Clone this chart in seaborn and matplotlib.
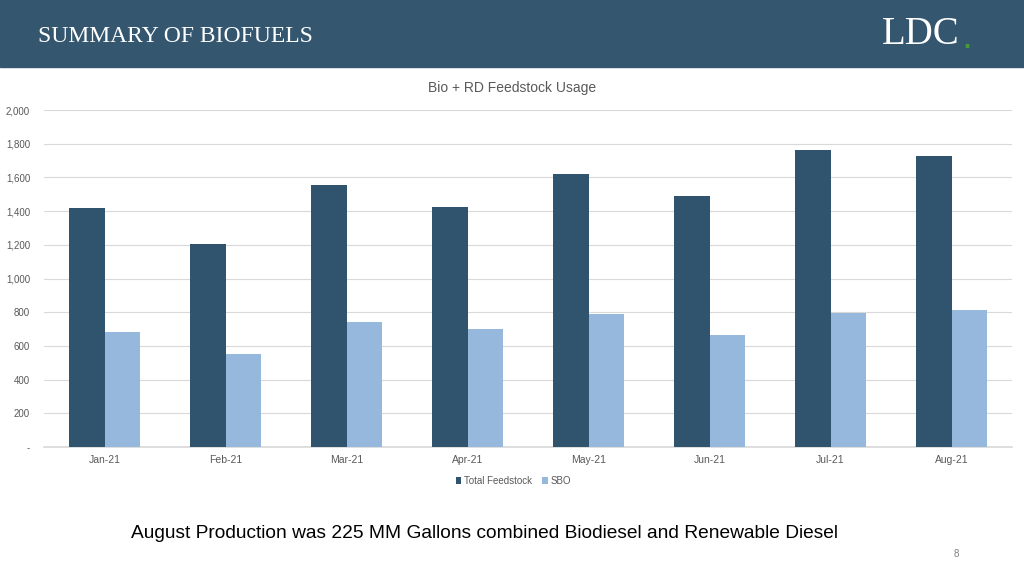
import pandas as pd
import matplotlib.pyplot as plt
import matplotlib.ticker as mticker
import seaborn as sns

# Données
months = ['Jan-21', 'Feb-21', 'Mar-21', 'Apr-21', 'May-21', 'Jun-21', 'Jul-21', 'Aug-21']
total_feedstock = [1418, 1205, 1555, 1424, 1620, 1490, 1763, 1727]
sbo = [682, 552, 742, 700, 789, 665, 795, 813]

df = pd.DataFrame({
    'Month': months * 2,
    'Value': total_feedstock + sbo,
    'Series': ['Total Feedstock'] * len(months) + ['SBO'] * len(months),
})

sns.set_theme(style="white")
plt.rcParams['font.family'] = ['Liberation Sans', 'DejaVu Sans']

dark = '#31546e'
light = '#96b8dd'

fig = plt.figure(figsize=(10.24, 5.76), dpi=100)

# Bandeau d'en-tête
fig.patches.append(plt.Rectangle((0, 1 - 67 / 576), 1, 67 / 576, transform=fig.transFigure,
                                 color='#34566f', zorder=0))
fig.text(38 / 1024, 1 - 36 / 576, 'SUMMARY OF BIOFUELS', color='white', fontsize=17,
         family=['Liberation Serif', 'DejaVu Serif'], va='center', ha='left')
fig.text(921 / 1024, 1 - 35 / 576, 'LDC', color='white', fontsize=28,
         family=['Liberation Serif', 'DejaVu Serif'], va='center', ha='center')
fig.text(967 / 1024, 1 - 41 / 576, '.', color='#4a9a3a', fontsize=18, fontweight='bold',
         va='center', ha='center')

ax = fig.add_axes([44 / 1024, 1 - 447 / 576, 968 / 1024, 337 / 576])
sns.barplot(data=df, x='Month', y='Value', hue='Series', palette=[dark, light],
            width=0.58, saturation=1, linewidth=0, ax=ax, zorder=3)

ax.set_ylim(0, 2000)
ax.set_xlim(-0.5, len(months) - 0.5)
ax.yaxis.set_major_locator(mticker.MultipleLocator(200))
ax.yaxis.set_major_formatter(mticker.FuncFormatter(lambda v, _: '-' if v == 0 else f'{v:,.0f}'))
ax.grid(axis='y', color='#d9d9d9', linewidth=0.8, zorder=0)
ax.set_xlabel('')
ax.set_ylabel('')
ax.tick_params(axis='y', labelsize=7, colors='#595959', length=0, pad=10)
ax.tick_params(axis='x', labelsize=7.5, colors='#595959', length=0, pad=6)
ax.set_xticks(range(len(months)), minor=False)
ax.set_xticks([i - 0.5 for i in range(len(months) + 1)], minor=True)
ax.tick_params(axis='x', which='minor', length=4, color='#d9d9d9', width=0.8)
for s in ['top', 'right', 'left']:
    ax.spines[s].set_visible(False)
ax.spines['bottom'].set_color('#d9d9d9')

ax.legend(loc='upper center', bbox_to_anchor=(0.485, -0.06), ncol=2, frameon=False,
          fontsize=7, handlelength=0.6, handleheight=0.6, handletextpad=0.3,
          columnspacing=1.0, labelcolor='#595959')

fig.text(512 / 1024, 1 - 88 / 576, 'Bio + RD Feedstock Usage', color='#595959', fontsize=10,
         ha='center', va='center')
fig.text(131 / 1024, 1 - 533 / 576,
         'August Production was 225 MM Gallons combined Biodiesel and Renewable Diesel',
         color='black', fontsize=13.8, ha='left', va='center')
fig.text(956 / 1024, 1 - 554 / 576, '8', color='#7f7f7f', fontsize=7, ha='center', va='center')

fig.savefig('out.png', dpi=100, facecolor='white')
